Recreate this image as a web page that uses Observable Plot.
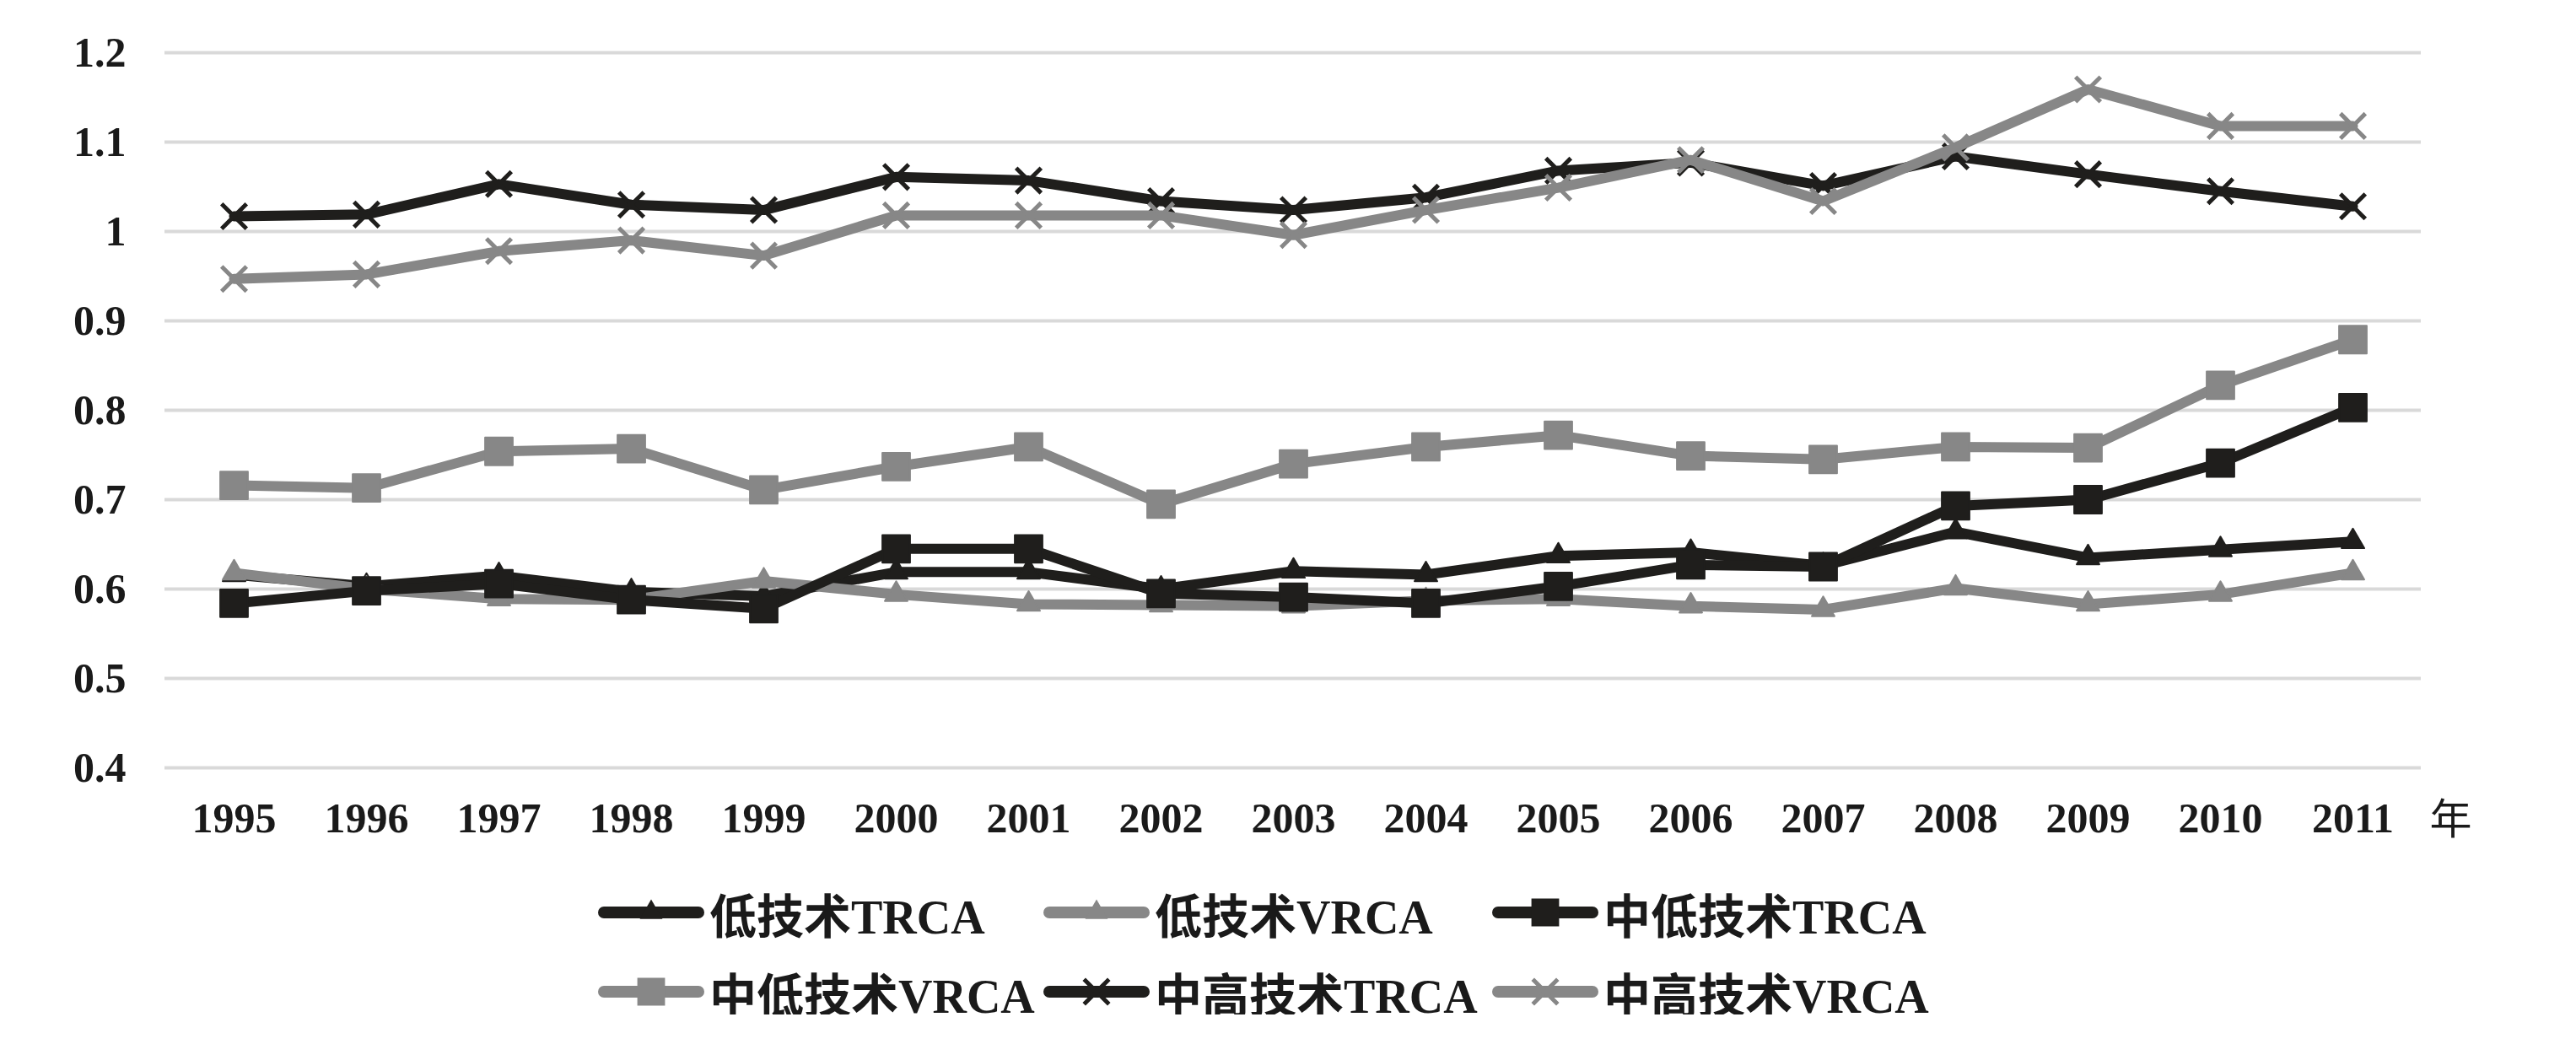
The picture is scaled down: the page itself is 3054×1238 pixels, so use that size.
<!DOCTYPE html>
<html>
<head>
<meta charset="utf-8">
<script src="https://cdn.jsdelivr.net/npm/d3@7"></script>
<script src="https://cdn.jsdelivr.net/npm/@observablehq/plot@0.6"></script>
<style>
  html, body { margin: 0; padding: 0; background: #ffffff; }
  #chart svg { display: block; }
  #legend {
    display: grid;
    grid-template-columns: 528px 532px 532px;
    margin-left: 709px;
    row-gap: 40px;
    margin-top: 35px;
    font-family: "Liberation Serif", "Noto Sans CJK SC", serif;
    font-weight: bold;
    font-size: 56px;
    color: #1a1a1a;
  }
  .item { display: flex; align-items: center; height: 54px; white-space: nowrap; }
  .item svg { margin-right: 6px; flex: none; }
</style>
</head>
<body>
<div id="chart"></div>
<div id="legend"></div>
<script>
const years = ["1995","1996","1997","1998","1999","2000","2001","2002","2003","2004","2005","2006","2007","2008","2009","2010","2011"];
const seriesNames = ["低技术TRCA","低技术VRCA","中低技术TRCA","中低技术VRCA","中高技术TRCA","中高技术VRCA"];
const lowTRCA   = [0.616,0.603,0.615,0.597,0.592,0.619,0.619,0.600,0.620,0.616,0.637,0.641,0.626,0.664,0.635,0.644,0.653];
const lowVRCA   = [0.618,0.600,0.589,0.588,0.609,0.594,0.583,0.582,0.581,0.587,0.589,0.581,0.577,0.601,0.583,0.594,0.618];
const midLowTRCA = [0.584,0.598,0.606,0.588,0.578,0.645,0.645,0.595,0.591,0.584,0.603,0.627,0.625,0.693,0.700,0.741,0.803];
const midLowVRCA = [0.716,0.713,0.754,0.757,0.711,0.737,0.759,0.695,0.740,0.759,0.772,0.749,0.745,0.759,0.758,0.828,0.879];
const midHighTRCA = [1.017,1.019,1.053,1.030,1.024,1.061,1.057,1.034,1.024,1.038,1.068,1.077,1.051,1.084,1.064,1.045,1.028];
const midHighVRCA = [0.947,0.952,0.978,0.990,0.973,1.018,1.018,1.018,0.996,1.024,1.049,1.080,1.034,1.094,1.159,1.118,1.118];
const yTicks = [0.4,0.5,0.6,0.7,0.8,0.9,1.0,1.1,1.2];
const unitLabel = ["年"];

const seriesValues = [lowTRCA, lowVRCA, midLowTRCA, midLowVRCA, midHighTRCA, midHighVRCA];
const BLACK = "#1f1e1c", GRAY = "#878787";
const seriesStyle = [
  {color: BLACK, symbol: "triangle", r: 10},
  {color: GRAY,  symbol: "triangle", r: 10},
  {color: BLACK, symbol: "square",   r: 18.5},
  {color: GRAY,  symbol: "square",   r: 18.5},
  {color: BLACK, symbol: "times",    r: 13.5},
  {color: GRAY,  symbol: "times",    r: 13.5}
];

const marks = [
  Plot.ruleY(yTicks, {stroke: "#d9d9d9", strokeWidth: 4}),
  Plot.axisY({ticks: yTicks, tickSize: 0, tickPadding: 46, label: null,
    tickFormat: d => String(Number(d.toFixed(1)))}),
  Plot.axisX({tickSize: 0, tickPadding: 41, label: null}),
  Plot.text(unitLabel, {frameAnchor: "bottom-right", textAnchor: "start", lineAnchor: "middle",
    dx: 10, dy: 62, fontWeight: "normal", fontFamily: "'Noto Sans CJK SC', sans-serif", fontSize: 50, fill: "#1a1a1a"})
];

seriesNames.forEach((name, i) => {
  const data = years.map((yr, j) => ({year: yr, value: seriesValues[i][j]}));
  const st = seriesStyle[i];
  marks.push(Plot.line(data, {x: "year", y: "value", stroke: st.color, strokeWidth: 12, strokeLinejoin: "round"}));
  if (st.symbol === "times") {
    marks.push(Plot.dot(data, {x: "year", y: "value", symbol: "times", r: st.r, stroke: st.color, strokeWidth: 5}));
  } else {
    marks.push(Plot.dot(data, {x: "year", y: "value", symbol: st.symbol, r: st.r, fill: st.color, stroke: st.color, strokeWidth: 2, strokeLinejoin: "round"}));
  }
});

const chart = Plot.plot({
  width: 3054,
  height: 1020,
  marginLeft: 195,
  marginRight: 184,
  marginTop: 62,
  marginBottom: 110,
  x: {type: "point", domain: years, padding: 0.5},
  y: {domain: [0.4, 1.2]},
  style: {
    fontFamily: "'Liberation Serif', 'Noto Sans CJK SC', serif",
    fontSize: "50px",
    fontWeight: "bold",
    color: "#1a1a1a",
    background: "#ffffff"
  },
  marks
});
document.getElementById("chart").appendChild(chart);

// Legend
const legend = d3.select("#legend");
const symMap = {triangle: d3.symbolTriangle, square: d3.symbolSquare, times: d3.symbolTimes};
seriesNames.forEach((name, i) => {
  const st = seriesStyle[i];
  const item = legend.append("div").attr("class", "item");
  const svg = item.append("svg").attr("width", 126).attr("height", 54);
  svg.append("line").attr("x1", 7).attr("x2", 119).attr("y1", 27).attr("y2", 27)
    .attr("stroke", st.color).attr("stroke-width", 14).attr("stroke-linecap", "round");
  const sym = d3.symbol(symMap[st.symbol], Math.PI * st.r * st.r)();
  const p = svg.append("path").attr("d", sym).attr("transform", "translate(63,27)");
  if (st.symbol === "times") p.attr("fill", "none").attr("stroke", st.color).attr("stroke-width", 5);
  else p.attr("fill", st.color);
  item.append("span").text(name);
});
</script>
</body>
</html>
